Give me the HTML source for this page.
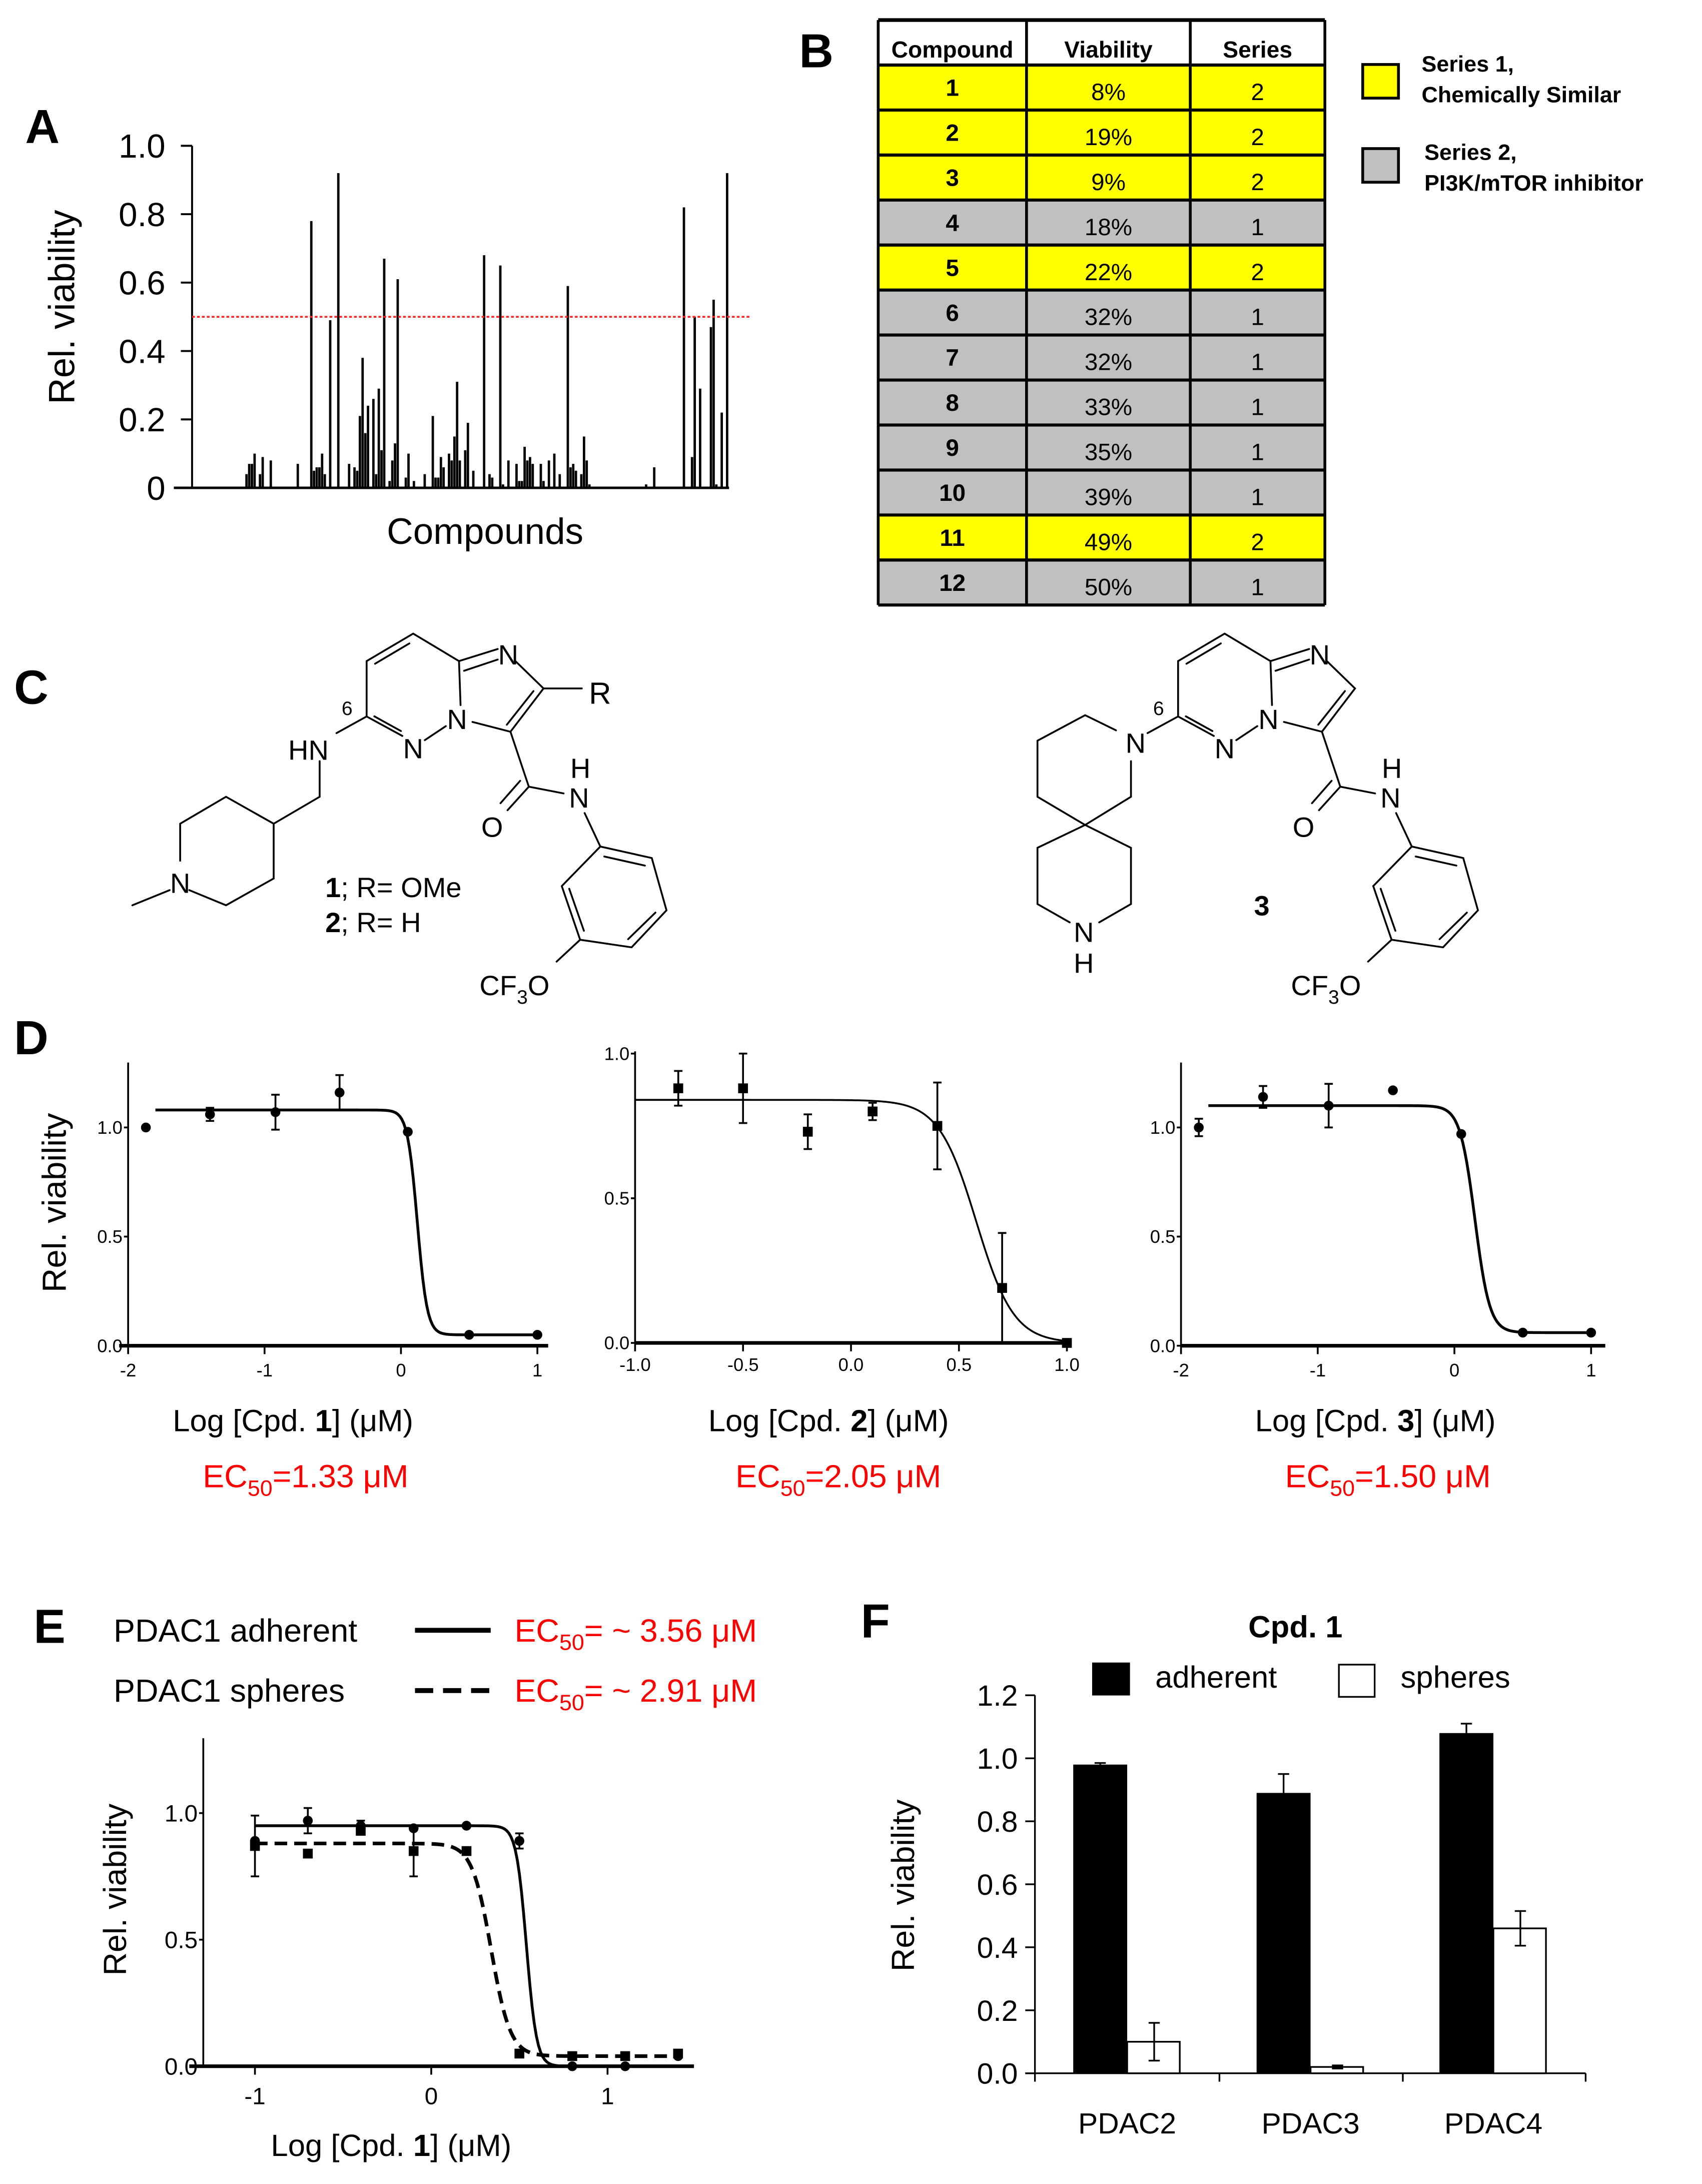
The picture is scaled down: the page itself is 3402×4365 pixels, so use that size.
<!DOCTYPE html>
<html><head><meta charset="utf-8"><title>Figure</title>
<style>
html,body{margin:0;padding:0;background:#fff;}
svg{display:block;font-family:"Liberation Sans",Arial,sans-serif;}
</style></head>
<body>
<svg id="fig" width="3402" height="4365" viewBox="0 0 1214 1558" preserveAspectRatio="none" xmlns="http://www.w3.org/2000/svg">
<rect x="0" y="0" width="1214" height="1558" fill="#fff"/>
<!-- panel letters -->
<text x="18" y="102" font-size="34" font-weight="bold">A</text>
<text x="570" y="48" font-size="34" font-weight="bold">B</text>
<text x="10" y="502" font-size="34" font-weight="bold">C</text>
<text x="10" y="752" font-size="34" font-weight="bold">D</text>
<text x="24" y="1172" font-size="34" font-weight="bold">E</text>
<text x="614" y="1168" font-size="34" font-weight="bold">F</text>

<!-- Panel A static -->
<g id="panelA"></g>
<text transform="translate(53,219) rotate(-90)" text-anchor="middle" font-size="26">Rel. viability</text>
<text x="346" y="388" text-anchor="middle" font-size="26">Compounds</text>

<!-- Panel B -->
<g id="panelB"></g>
<rect x="972" y="46" width="25.5" height="24" fill="#ffff00" stroke="#000" stroke-width="2"/>
<text x="1014" y="51" font-size="16" font-weight="bold">Series 1,</text>
<text x="1014" y="73" font-size="16" font-weight="bold">Chemically Similar</text>
<rect x="972" y="106" width="25.5" height="24" fill="#c0c0c0" stroke="#000" stroke-width="2"/>
<text x="1016" y="114" font-size="16" font-weight="bold">Series 2,</text>
<text x="1016" y="136" font-size="16" font-weight="bold">PI3K/mTOR inhibitor</text>

<!-- Panel C structures -->
<g stroke="#000" stroke-width="1.3" fill="none" stroke-linecap="round">
  <g>
    <polyline points="327.4,471.6 294.7,452 261.5,471.6 261.5,511.1 287,525"/>
    <line x1="292" y1="459" x2="267.5" y2="473.5"/>
    <line x1="267" y1="511" x2="286" y2="521.5"/>
    <line x1="303" y1="528" x2="318" y2="518"/>
    <line x1="327.4" y1="471.6" x2="328.5" y2="503"/>
    <line x1="327.4" y1="471.6" x2="355" y2="463"/>
    <line x1="331" y1="478.5" x2="355" y2="470.5"/>
    <polyline points="367,471 387.7,491.1 364.1,522 337,515"/>
    <line x1="380.5" y1="493" x2="361.5" y2="517"/>
    <polyline points="364.1,522 377.2,561.2 402,566"/>
    <line x1="377.2" y1="561.2" x2="362" y2="578"/>
    <line x1="371" y1="557" x2="357" y2="573"/>
    <polyline points="417,580 428.2,603.9 464.9,612.1 475.4,649.4 450.5,675.8 413.8,670.4 400.7,632.1 428.2,603.9"/>
    <line x1="431" y1="611" x2="460" y2="617.5"/>
    <line x1="467.5" y1="651" x2="448" y2="670"/>
    <line x1="416.5" y1="664" x2="406" y2="634"/>
    <line x1="413.8" y1="670.4" x2="397" y2="686"/>
  </g>
  <line x1="387.7" y1="491.1" x2="415" y2="491.1"/>
  <polyline points="261.5,511.1 240,523"/>
  <polyline points="228,543 228,568.4 195.2,587.6 161.2,568.4 128.5,587.6 128.5,614"/>
  <polyline points="195.2,587.6 195.2,626.7 161.2,645.8 135,635"/>
  <line x1="121" y1="635" x2="94.4" y2="645.8"/>
</g>
<g font-size="20" text-anchor="middle">
  <g>
    <text x="294.7" y="541">N</text>
    <text x="326" y="520">N</text>
    <text x="362.5" y="474">N</text>
    <text x="351" y="597">O</text>
    <text x="413" y="576">N</text>
    <text x="414" y="555">H</text>
    <text x="367" y="710">CF<tspan font-size="14" dy="6">3</tspan><tspan dy="-6">O</tspan></text>
    <text x="247.6" y="510" font-size="14">6</text>
  </g>
  <text x="428" y="502" font-size="22">R</text>
  <text x="220" y="542">HN</text>
  <text x="128.5" y="637">N</text>
  <text x="232" y="640" text-anchor="start"><tspan font-weight="bold">1</tspan>; R= OMe</text>
  <text x="232" y="665" text-anchor="start"><tspan font-weight="bold">2</tspan>; R= H</text>
</g>
<g stroke="#000" stroke-width="1.3" fill="none" stroke-linecap="round">
  <g transform="translate(578.8,0)">
    <polyline points="327.4,471.6 294.7,452 261.5,471.6 261.5,511.1 287,525"/>
    <line x1="292" y1="459" x2="267.5" y2="473.5"/>
    <line x1="267" y1="511" x2="286" y2="521.5"/>
    <line x1="303" y1="528" x2="318" y2="518"/>
    <line x1="327.4" y1="471.6" x2="328.5" y2="503"/>
    <line x1="327.4" y1="471.6" x2="355" y2="463"/>
    <line x1="331" y1="478.5" x2="355" y2="470.5"/>
    <polyline points="367,471 387.7,491.1 364.1,522 337,515"/>
    <line x1="380.5" y1="493" x2="361.5" y2="517"/>
    <polyline points="364.1,522 377.2,561.2 402,566"/>
    <line x1="377.2" y1="561.2" x2="362" y2="578"/>
    <line x1="371" y1="557" x2="357" y2="573"/>
    <polyline points="417,580 428.2,603.9 464.9,612.1 475.4,649.4 450.5,675.8 413.8,670.4 400.7,632.1 428.2,603.9"/>
    <line x1="431" y1="611" x2="460" y2="617.5"/>
    <line x1="467.5" y1="651" x2="448" y2="670"/>
    <line x1="416.5" y1="664" x2="406" y2="634"/>
    <line x1="413.8" y1="670.4" x2="397" y2="686"/>
  </g>
  <line x1="840.3" y1="511.1" x2="818.5" y2="523"/>
  <polyline points="796,521 774,510.2 740,528.4 740,568.4 774,588.5 806.7,568.4 806.7,543"/>
  <polyline points="774,588.5 740,604.8 740,644.9 763,658"/>
  <polyline points="774,588.5 806.7,604.8 806.7,644.9 784,658"/>
</g>
<g font-size="20" text-anchor="middle">
  <g transform="translate(578.8,0)">
    <text x="294.7" y="541">N</text>
    <text x="326" y="520">N</text>
    <text x="362.5" y="474">N</text>
    <text x="351" y="597">O</text>
    <text x="413" y="576">N</text>
    <text x="414" y="555">H</text>
    <text x="367" y="710">CF<tspan font-size="14" dy="6">3</tspan><tspan dy="-6">O</tspan></text>
    <text x="247.6" y="510" font-size="14">6</text>
  </g>
  <text x="810" y="537">N</text>
  <text x="773" y="672">N</text>
  <text x="773" y="694">H</text>
  <text x="900" y="653" font-weight="bold">3</text>
</g>

<!-- Panel D -->
<g id="panelD"></g>
<text transform="translate(47,858) rotate(-90)" text-anchor="middle" font-size="24">Rel. viability</text>
<text x="209" y="1021" text-anchor="middle" font-size="22">Log [Cpd. <tspan font-weight="bold">1</tspan>] (μM)</text>
<text x="591" y="1021" text-anchor="middle" font-size="22">Log [Cpd. <tspan font-weight="bold">2</tspan>] (μM)</text>
<text x="981" y="1021" text-anchor="middle" font-size="22">Log [Cpd. <tspan font-weight="bold">3</tspan>] (μM)</text>
<text x="218" y="1061" text-anchor="middle" font-size="23" fill="#ff0000">EC<tspan font-size="16" dy="6">50</tspan><tspan dy="-6">=1.33 μM</tspan></text>
<text x="598" y="1061" text-anchor="middle" font-size="23" fill="#ff0000">EC<tspan font-size="16" dy="6">50</tspan><tspan dy="-6">=2.05 μM</tspan></text>
<text x="990" y="1061" text-anchor="middle" font-size="23" fill="#ff0000">EC<tspan font-size="16" dy="6">50</tspan><tspan dy="-6">=1.50 μM</tspan></text>

<!-- Panel E -->
<text x="81" y="1171" font-size="23">PDAC1 adherent</text>
<line x1="296" y1="1163" x2="350" y2="1163" stroke="#000" stroke-width="3.5"/>
<text x="367" y="1171" font-size="23" fill="#ff0000">EC<tspan font-size="16" dy="6">50</tspan><tspan dy="-6">= ~ 3.56 μM</tspan></text>
<text x="81" y="1214" font-size="23">PDAC1 spheres</text>
<line x1="296" y1="1206" x2="350" y2="1206" stroke="#000" stroke-width="3.5" stroke-dasharray="13,7"/>
<text x="367" y="1214" font-size="23" fill="#ff0000">EC<tspan font-size="16" dy="6">50</tspan><tspan dy="-6">= ~ 2.91 μM</tspan></text>
<g id="panelE"></g>
<text transform="translate(90,1348) rotate(-90)" text-anchor="middle" font-size="23">Rel. viability</text>
<text x="279" y="1538" text-anchor="middle" font-size="22">Log [Cpd. <tspan font-weight="bold">1</tspan>] (μM)</text>

<!-- Panel F -->
<text x="924" y="1168" text-anchor="middle" font-size="22" font-weight="bold">Cpd. 1</text>
<rect x="779" y="1186" width="27" height="23.5" fill="#000"/>
<text x="824" y="1204" font-size="22">adherent</text>
<rect x="955" y="1187.5" width="25.5" height="23" fill="#fff" stroke="#000" stroke-width="1.2"/>
<text x="999" y="1204" font-size="22">spheres</text>
<g id="panelF"></g>
<text transform="translate(652,1345) rotate(-90)" text-anchor="middle" font-size="23">Rel. viability</text>

<script>
// ---------- DATA ----------
// Panel A: compound screen (compound slot index, relative viability)
var aIdx = [22,23,24,25,27,28,31,41,46,47,48,49,50,51,53,56,60,62,63,64,65,66,67,69,70,71,72,73,75,76,77,78,81,82,84,88,91,92,93,94,95,97,98,99,100,101,103,104,106,110,112,113,116,117,119,122,123,124,125,126,127,128,131,132,134,136,138,141,142,143,144,146,147,148,149,170,173,184,187,188,190,194,195,196,198,200];
var aVal = [0.04,0.07,0.07,0.1,0.04,0.09,0.08,0.07,0.78,0.05,0.06,0.06,0.1,0.04,0.49,0.92,0.07,0.06,0.05,0.21,0.38,0.16,0.24,0.26,0.04,0.29,0.11,0.67,0.02,0.08,0.13,0.61,0.03,0.1,0.02,0.04,0.21,0.03,0.03,0.09,0.06,0.1,0.08,0.15,0.31,0.08,0.11,0.19,0.05,0.68,0.04,0.03,0.65,0.01,0.08,0.07,0.02,0.02,0.12,0.08,0.09,0.07,0.07,0.02,0.08,0.1,0.04,0.59,0.06,0.07,0.05,0.04,0.15,0.08,0.01,0.01,0.06,0.82,0.09,0.5,0.29,0.47,0.55,0.01,0.22,0.92];
var aTicks = [0,0.2,0.4,0.6,0.8,1.0];
var aTickLabels = ["0","0.2","0.4","0.6","0.8","1.0"];
var aThreshold = 0.5;

// Panel B: table
var bCompounds = ["1","2","3","4","5","6","7","8","9","10","11","12"];
var bViability = ["8%","19%","9%","18%","22%","32%","32%","33%","35%","39%","49%","50%"];
var bSeries = [2,2,2,1,2,1,1,1,1,1,2,1];

// Panel D1
var d1X = [-1.87,-1.4,-0.92,-0.45,0.05,0.5,1.0];
var d1Y = [1.0,1.06,1.07,1.16,0.98,0.05,0.05];
var d1Err = [0,0.03,0.08,0.08,0,0,0];
var d1Fit = [1.08,0.05,0.12,-12]; // top, bottom, logEC50, hill
var d1XTicks = [-2,-1,0,1];
var d1XTickLabels = ["-2","-1","0","1"];
var dYTicks = [0,0.5,1.0];
var dYTickLabels = ["0.0","0.5","1.0"];
// Panel D2
var d2X = [-0.8,-0.5,-0.2,0.1,0.4,0.7,1.0];
var d2Y = [0.88,0.88,0.73,0.8,0.75,0.19,0.0];
var d2Err = [0.06,0.12,0.06,0.03,0.15,0.19,0];
var d2Fit = [0.84,0.0,0.58,-5];
var d2XTicks = [-1,-0.5,0,0.5,1];
var d2XTickLabels = ["-1.0","-0.5","0.0","0.5","1.0"];
// Panel D3
var d3X = [-1.87,-1.4,-0.92,-0.45,0.05,0.5,1.0];
var d3Y = [1.0,1.14,1.1,1.17,0.97,0.06,0.06];
var d3Err = [0.04,0.05,0.1,0,0,0,0];
var d3Fit = [1.1,0.06,0.15,-8];
var d3XTicks = [-2,-1,0,1];
var d3XTickLabels = ["-2","-1","0","1"];

// Panel E
var eX = [-1,-0.7,-0.4,-0.1,0.2,0.5,0.8,1.1,1.4];
var eAdhY = [0.89,0.97,0.95,0.94,0.95,0.89,0.0,0.0,0.04];
var eAdhErr = [0,0.05,0.02,0,0,0.03,0,0,0];
var eSphY = [0.87,0.84,0.93,0.85,0.85,0.05,0.04,0.04,0.05];
var eSphErr = [0.12,0,0,0.1,0,0,0,0,0];
var eAdhFit = [0.95,0.0,0.54,-15];
var eSphFit = [0.88,0.04,0.34,-8];
var eXTicks = [-1,0,1];
var eXTickLabels = ["-1","0","1"];
var eYTicks = [0,0.5,1.0];
var eYTickLabels = ["0.0","0.5","1.0"];

// Panel F
var fCats = ["PDAC2","PDAC3","PDAC4"];
var fAdh = [0.98,0.89,1.08];
var fAdhErr = [0.005,0.06,0.03];
var fSph = [0.10,0.02,0.46];
var fSphErr = [0.06,0.005,0.055];
var fYTicks = [0,0.2,0.4,0.6,0.8,1.0,1.2];
var fYTickLabels = ["0.0","0.2","0.4","0.6","0.8","1.0","1.2"];

// ---------- HELPERS ----------
var NS = "http://www.w3.org/2000/svg";
function mk(parent, tag, attrs, name) {
  var el = document.createElementNS(NS, tag);
  for (var k in attrs) el.setAttribute(k, attrs[k]);
  
  
  parent.appendChild(el);
  return el;
}
function txt(parent, x, y, s, size, anchor, name, extra) {
  var el = mk(parent, 'text', {x: x, y: y, 'font-size': size, 'text-anchor': anchor || 'start'}, name);
  if (extra) for (var k in extra) el.setAttribute(k, extra[k]);
  el.textContent = s;
  return el;
}

// ---------- PANEL A ----------
(function () {
  var g = document.getElementById('panelA');
  function ax(i) { return 133.4 + i * 1.926; }
  function ay(v) { return 348 - v * 244; }
  mk(g, 'line', {x1: 137, y1: ay(0), x2: 137, y2: ay(1.0), stroke: '#000', 'stroke-width': 1.4}, 'a-y-axis');
  mk(g, 'line', {x1: 124, y1: ay(0), x2: 520, y2: ay(0), stroke: '#000', 'stroke-width': 1.8}, 'a-x-axis');
  for (var t = 0; t < aTicks.length; t++) {
    mk(g, 'line', {x1: 129, y1: ay(aTicks[t]), x2: 137, y2: ay(aTicks[t]), stroke: '#000', 'stroke-width': 1.4}, 'a-y-tick');
    txt(g, 118, ay(aTicks[t]) + 8.5, aTickLabels[t], 24, 'end', 'a-y-tick-label');
  }
  for (var i = 0; i < aIdx.length; i++) {
    mk(g, 'rect', {x: ax(aIdx[i]) - 0.8, y: ay(aVal[i]), width: 1.7, height: aVal[i] * 244, fill: '#000'}, 'a-bar');
  }
  mk(g, 'line', {x1: 137, y1: ay(aThreshold), x2: 535, y2: ay(aThreshold), stroke: '#ff2020', 'stroke-width': 1.3, 'stroke-dasharray': '2,1.5'}, 'a-threshold-line');
})();

// ---------- PANEL B ----------
(function () {
  var g = document.getElementById('panelB');
  var L = 626.4, C1 = 732.2, C2 = 849, R = 945, T = 14.3, H = 46.4, rh = 32.1;
  mk(g, 'rect', {x: L, y: T, width: R - L, height: H - T, fill: '#fff'}, 'table-header-bg');
  txt(g, 679.3, 41, 'Compound', 16.5, 'middle', 'table-header-compound', {'font-weight': 'bold'});
  txt(g, 790.6, 41, 'Viability', 16.5, 'middle', 'table-header-viability', {'font-weight': 'bold'});
  txt(g, 897, 41, 'Series', 16.5, 'middle', 'table-header-series', {'font-weight': 'bold'});
  for (var i = 0; i < bCompounds.length; i++) {
    var y0 = H + i * rh;
    var col = bSeries[i] === 2 ? '#ffff00' : '#c0c0c0';
    mk(g, 'rect', {x: L, y: y0, width: R - L, height: rh, fill: col}, 'table-row-bg');
    txt(g, 679.3, y0 + 22, bCompounds[i], 17, 'middle', 'table-cell-compound', {'font-weight': 'bold'});
    txt(g, 790.6, y0 + 25, bViability[i], 17, 'middle', 'table-cell-viability');
    txt(g, 897, y0 + 25, String(bSeries[i]), 17, 'middle', 'table-cell-series');
    mk(g, 'line', {x1: L, y1: y0, x2: R, y2: y0, stroke: '#000', 'stroke-width': 2.2}, 'table-row-border');
  }
  var B = H + bCompounds.length * rh;
  mk(g, 'line', {x1: L, y1: B, x2: R, y2: B, stroke: '#000', 'stroke-width': 2.2}, 'table-bottom-border');
  mk(g, 'line', {x1: L, y1: T, x2: R, y2: T, stroke: '#000', 'stroke-width': 2.6}, 'table-top-border');
  var cols = [L, C1, C2, R];
  for (var c = 0; c < cols.length; c++) {
    mk(g, 'line', {x1: cols[c], y1: T, x2: cols[c], y2: B, stroke: '#000', 'stroke-width': 2}, 'table-col-border');
  }
})();

// ---------- DOSE-RESPONSE HELPER ----------
function logistic(fit, x) { return fit[1] + (fit[0] - fit[1]) / (1 + Math.pow(10, -fit[3] * (x - fit[2]))); }
function drawDose(g, pre, X, Y, E, fit, sx, sy, xr, square, dashed, lw) {
  var pts = [];
  for (var k = 0; k <= 200; k++) {
    var xv = xr[0] + (xr[1] - xr[0]) * k / 200;
    pts.push(sx(xv).toFixed(2) + ',' + sy(logistic(fit, xv)).toFixed(2));
  }
  var attrs = {points: pts.join(' '), fill: 'none', stroke: '#000', 'stroke-width': lw};
  if (dashed) attrs['stroke-dasharray'] = '9,5';
  mk(g, 'polyline', attrs, pre + '-fit-curve');
  for (var i = 0; i < X.length; i++) {
    var px = sx(X[i]), py = sy(Y[i]);
    if (E[i] > 0) {
      mk(g, 'line', {x1: px, y1: sy(Y[i] - E[i]), x2: px, y2: sy(Y[i] + E[i]), stroke: '#000', 'stroke-width': 1.3}, pre + '-error-bar');
      mk(g, 'line', {x1: px - 3, y1: sy(Y[i] + E[i]), x2: px + 3, y2: sy(Y[i] + E[i]), stroke: '#000', 'stroke-width': 1.3}, pre + '-error-cap');
      mk(g, 'line', {x1: px - 3, y1: sy(Y[i] - E[i]), x2: px + 3, y2: sy(Y[i] - E[i]), stroke: '#000', 'stroke-width': 1.3}, pre + '-error-cap');
    }
    if (square) mk(g, 'rect', {x: px - 3.5, y: py - 3.5, width: 7, height: 7, fill: '#000'}, pre + '-point');
    else mk(g, 'circle', {cx: px, cy: py, r: 3.5, fill: '#000'}, pre + '-point');
  }
}
function drawAxes(g, pre, x0, y0, yTop, xEnd, xStart, sx, sy, xT, xTL, yT, yTL, fs, yoff) {
  mk(g, 'line', {x1: x0, y1: y0, x2: x0, y2: yTop, stroke: '#000', 'stroke-width': 1.3}, pre + '-y-axis');
  mk(g, 'line', {x1: xStart, y1: y0, x2: xEnd, y2: y0, stroke: '#000', 'stroke-width': 2.6}, pre + '-x-axis');
  for (var i = 0; i < yT.length; i++) {
    mk(g, 'line', {x1: x0 - 3, y1: sy(yT[i]), x2: x0, y2: sy(yT[i]), stroke: '#000', 'stroke-width': 1.3}, pre + '-y-tick');
    txt(g, x0 - 4, sy(yT[i]) + fs * 0.35, yTL[i], fs, 'end', pre + '-y-tick-label');
  }
  for (var j = 0; j < xT.length; j++) {
    mk(g, 'line', {x1: sx(xT[j]), y1: y0, x2: sx(xT[j]), y2: y0 + 6, stroke: '#000', 'stroke-width': 1.3}, pre + '-x-tick');
    txt(g, sx(xT[j]), y0 + yoff, xTL[j], fs, 'middle', pre + '-x-tick-label');
  }
}

// ---------- PANEL D ----------
(function () {
  var g = document.getElementById('panelD');
  function sx1(v) { return 91.4 + (v + 2) * 97.3; }
  function sy1(v) { return 960 - v * 155.7; }
  drawAxes(g, 'd1', 91.4, 960, 758, 391, 85, sx1, sy1, d1XTicks, d1XTickLabels, dYTicks, dYTickLabels, 13, 22);
  drawDose(g, 'd1', d1X, d1Y, d1Err, d1Fit, sx1, sy1, [-1.8, 1.0], false, false, 2);

  function sx2(v) { return 453 + (v + 1) * 154; }
  function sy2(v) { return 958 - v * 206.4; }
  drawAxes(g, 'd2', 453, 958, 750, 761, 453, sx2, sy2, d2XTicks, d2XTickLabels, dYTicks, dYTickLabels, 13, 20);
  drawDose(g, 'd2', d2X, d2Y, d2Err, d2Fit, sx2, sy2, [-1.0, 1.0], true, false, 1.3);

  function sx3(v) { return 842.4 + (v + 2) * 97.5; }
  function sy3(v) { return 960 - v * 155.7; }
  drawAxes(g, 'd3', 842.4, 960, 758, 1145, 842.4, sx3, sy3, d1XTicks, d3XTickLabels, dYTicks, dYTickLabels, 13, 22);
  drawDose(g, 'd3', d3X, d3Y, d3Err, d3Fit, sx3, sy3, [-1.8, 1.0], false, false, 2);
})();

// ---------- PANEL E ----------
(function () {
  var g = document.getElementById('panelE');
  function sx(v) { return 307.6 + v * 125.75; }
  function sy(v) { return 1474 - v * 180.6; }
  drawAxes(g, 'e', 145, 1474, 1240, 495, 135, sx, sy, eXTicks, eXTickLabels, eYTicks, eYTickLabels, 17, 27);
  drawDose(g, 'e-adherent', eX, eAdhY, eAdhErr, eAdhFit, sx, sy, [-1.0, 1.4], false, false, 2);
  drawDose(g, 'e-spheres', eX, eSphY, eSphErr, eSphFit, sx, sy, [-1.0, 1.4], true, true, 2.6);
})();

// ---------- PANEL F ----------
(function () {
  var g = document.getElementById('panelF');
  function sy(v) { return 1479 - v * 224.7; }
  var bw = 38.5;
  mk(g, 'line', {x1: 738.2, y1: 1479, x2: 738.2, y2: sy(1.2), stroke: '#000', 'stroke-width': 1.2}, 'f-y-axis');
  mk(g, 'line', {x1: 731.3, y1: 1479, x2: 1131, y2: 1479, stroke: '#000', 'stroke-width': 1.2}, 'f-x-axis');
  for (var t = 0; t < fYTicks.length; t++) {
    mk(g, 'line', {x1: 731.3, y1: sy(fYTicks[t]), x2: 738.2, y2: sy(fYTicks[t]), stroke: '#000', 'stroke-width': 1.2}, 'f-y-tick');
    txt(g, 726, sy(fYTicks[t]) + 7.5, fYTickLabels[t], 21, 'end', 'f-y-tick-label');
  }
  var xt = [738.2, 869.8, 1000.6, 1131];
  for (var k = 0; k < xt.length; k++) {
    mk(g, 'line', {x1: xt[k], y1: 1479, x2: xt[k], y2: 1485, stroke: '#000', 'stroke-width': 1.2}, 'f-x-tick');
  }
  for (var i = 0; i < fCats.length; i++) {
    var mid = (i === 0 ? 804 : i === 1 ? 934.8 : 1065.2);
    var ha = fAdh[i], hs = fSph[i];
    mk(g, 'rect', {x: mid - bw, y: sy(ha), width: bw, height: ha * 224.7, fill: '#000'}, 'f-bar-adherent');
    mk(g, 'rect', {x: mid, y: sy(hs), width: bw - 1, height: hs * 224.7, fill: '#fff', stroke: '#000', 'stroke-width': 1.2}, 'f-bar-spheres');
    var cxA = mid - bw / 2, cxS = mid + bw / 2;
    mk(g, 'line', {x1: cxA, y1: sy(ha), x2: cxA, y2: sy(ha + fAdhErr[i]), stroke: '#000', 'stroke-width': 1.2}, 'f-error-adherent');
    mk(g, 'line', {x1: cxA - 4, y1: sy(ha + fAdhErr[i]), x2: cxA + 4, y2: sy(ha + fAdhErr[i]), stroke: '#000', 'stroke-width': 1.2}, 'f-error-cap-adherent');
    mk(g, 'line', {x1: cxS, y1: sy(hs - fSphErr[i]), x2: cxS, y2: sy(hs + fSphErr[i]), stroke: '#000', 'stroke-width': 1.2}, 'f-error-spheres');
    mk(g, 'line', {x1: cxS - 4, y1: sy(hs + fSphErr[i]), x2: cxS + 4, y2: sy(hs + fSphErr[i]), stroke: '#000', 'stroke-width': 1.2}, 'f-error-cap-spheres');
    mk(g, 'line', {x1: cxS - 4, y1: sy(hs - fSphErr[i]), x2: cxS + 4, y2: sy(hs - fSphErr[i]), stroke: '#000', 'stroke-width': 1.2}, 'f-error-cap-spheres');
    txt(g, mid, 1522, fCats[i], 21, 'middle', 'f-x-tick-label');
  }
})();
</script>
</body></html>
